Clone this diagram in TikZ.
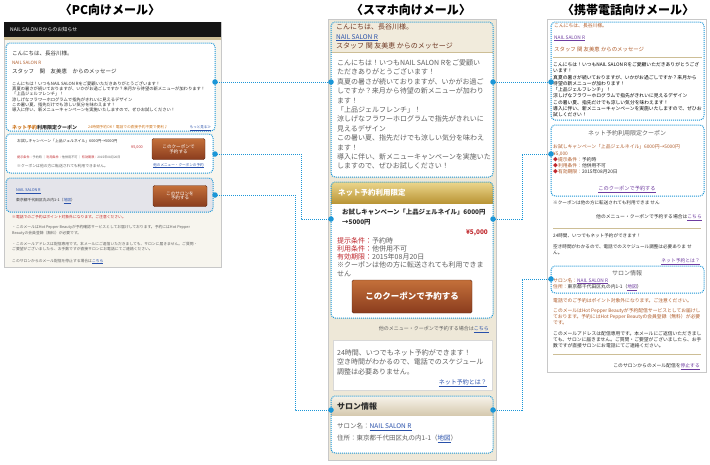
\documentclass[tikz,border=0pt]{standalone}
\usepackage{fontspec}
\setmainfont{Noto Sans CJK JP}
\definecolor{dotblue}{RGB}{27,150,215}
\definecolor{pcbg}{RGB}{247,245,238}
\definecolor{frameg}{RGB}{200,200,200}
\definecolor{tanl}{RGB}{205,190,150}
\definecolor{boxgray}{RGB}{228,228,234}
\definecolor{btntop}{RGB}{196,112,58}
\definecolor{btnbot}{RGB}{138,60,30}
\definecolor{spbg}{RGB}{238,232,216}
\definecolor{sphead}{RGB}{241,235,220}
\definecolor{goldtop}{RGB}{236,214,140}
\definecolor{goldbot}{RGB}{186,150,55}
\definecolor{saltop}{RGB}{247,243,234}
\definecolor{salbot}{RGB}{214,202,176}
\definecolor{redt}{RGB}{192,40,45}
\definecolor{linkb}{RGB}{40,80,170}
\definecolor{purp}{RGB}{110,60,160}
\definecolor{brownt}{RGB}{175,90,40}
\definecolor{spbrown}{RGB}{110,55,35}
\definecolor{darkt}{RGB}{45,45,45}
\definecolor{grayt}{RGB}{95,95,95}
\definecolor{orng}{RGB}{205,115,25}
\newcommand\fs[1]{\fontsize{#1}{#1}\selectfont}
\tikzset{
  dbox/.style={draw=dotblue, densely dotted, line width=1pt, rounded corners=4pt},
  conn/.style={draw=dotblue, densely dotted, line width=1pt},
  dotc/.style={circle, fill=dotblue, inner sep=0pt, minimum size=5.5pt},
  txt/.style={anchor=base west, inner sep=0pt},
  ctxt/.style={anchor=base, inner sep=0pt},
  rtxt/.style={anchor=base east, inner sep=0pt},
  btn/.style={draw=btnbot!70!black, rounded corners=1.5pt, top color=btntop, bottom color=btnbot, text=white, align=center, inner sep=0pt},
}
\begin{document}
\begin{tikzpicture}[x=1pt,y=-1pt]
\useasboundingbox[fill=white] (0,0) rectangle (710,464);

% ---------------- titles
\node[font=\bfseries\fs{12}] (ttlpc) at (110,10) {〈PC向けメール〉};
\node[font=\bfseries\fs{12}] (ttlsp) at (411,10) {〈スマホ向けメール〉};
\node[font=\bfseries\fs{12}] (ttlmb) at (628,10) {〈携帯電話向けメール〉};

% ================= PC mail
\draw[frameg, fill=pcbg] (4,22) rectangle (221,267);
\fill[black!92] (4,22) rectangle (221,37);
\node[txt, text=white, font=\fs{5}] (pchead) at (10,31.5) {NAIL SALON Rからのお知らせ};
\fill[tanl] (4,37) rectangle (221,39.5);

\draw[dbox, fill=white] (6,43) rectangle (215,131);
\node[txt, font=\fs{5.5}, text=darkt] (pcg1) at (12,55) {こんにちは、長谷川様。};
\node[txt, font=\fs{4.5}, text=brownt] (pcg2) at (12,64.5) {NAIL SALON R};
\node[txt, font=\fs{5.5}, text=darkt] (pcg3) at (12,73.5) {スタッフ　関　友美恵　からのメッセージ};
\foreach \s [count=\i] in {{こんにちは！いつもNAIL SALON Rをご愛顧いただきありがとうございます！},
  {真夏の暑さが続いておりますが、いかがお過ごしですか？来月から待望の新メニューが加わります！},
  {「上品ジェルフレンチ」！},
  {涼しげなフラワーホログラムで指先がきれいに見えるデザイン},
  {この暑い夏、指先だけでも涼しい気分を味わえます！},
  {導入に伴い、新メニューキャンペーンを実施いたしますので、ぜひお試しください！}}
  \node[txt, font=\fs{4.3}, text=darkt] (pcb\i) at (12,{85.5+(\i-1)*5.2}) {\s};
\node[txt, font=\bfseries\fs{5}, text=darkt] (pccph) at (12,129) {\textcolor{orng}{ネット予約}利用限定クーポン};
\node[txt, font=\fs{3.7}, text=orng] (pccpn) at (88,128.5) {24時間予約OK！電話での直接予約不要で便利♪};
\node[rtxt, font=\fs{3.5}, text=linkb] (pcmore) at (211,128.5) {\underline{もっと見る≫}};

\draw[dbox, fill=white] (6,134) rectangle (213,173);
\node[txt, font=\fs{3.8}, text=darkt] (pcc1) at (17,142) {お試しキャンペーン「上品ジェルネイル」6000円→5000円};
\node[rtxt, font=\fs{3.8}, text=redt] (pcc2) at (143,148) {¥5,000};
\node[txt, font=\fs{3.1}, text=grayt] (pcc3) at (17,158.5) {\textcolor{redt}{提示条件：}予約時 ｜ \textcolor{redt}{利用条件：}他併用不可 ｜ \textcolor{redt}{有効期限：}2015年08月20日};
\node[txt, font=\fs{3.8}, text=grayt] (pcc4) at (17,167.5) {※クーポンは他の方に転送されても利用できません。};
\node[btn, minimum width=53pt, minimum height=21pt, font=\fs{4.6}] (pcbtn1) at (178.5,149) {このクーポンで\\予約する};
\node[ctxt, font=\fs{3.6}, text=linkb] (pcc5) at (178.5,166) {\underline{他のメニュー・クーポンの予約}};

\draw[dbox, fill=boxgray] (6,178) rectangle (213,212);
\node[txt, font=\fs{3.8}, text=linkb] (pcs1) at (16,191.5) {\underline{NAIL SALON R}};
\node[txt, font=\fs{3.8}, text=darkt] (pcs2) at (16,201.5) {東京都千代田区丸の内1-1（\textcolor{linkb}{\underline{地図}}）};
\node[btn, minimum width=54pt, minimum height=21pt, font=\fs{4.6}] (pcbtn2) at (180,196) {このサロンを\\予約する};

\node[txt, font=\fs{3.8}, text=redt] (pcf0) at (12,218.5) {※電話でのご予約はポイント対象外になります。ご注意ください。};
\node[txt, font=\fs{3.8}, text=grayt] (pcf1) at (12,228.5) {・このメールはHot Pepper Beautyが予約確認サービスとしてお届けしております。予約にはHot Pepper};
\node[txt, font=\fs{3.8}, text=grayt] (pcf2) at (12,234) {Beautyの会員登録（無料）が必要です。};
\node[txt, font=\fs{3.8}, text=grayt] (pcf3) at (12,245) {・このメールアドレスは配信専用です。本メールにご返信いただきましても、サロンに届きません。ご質問・};
\node[txt, font=\fs{3.8}, text=grayt] (pcf4) at (12,250.5) {ご要望がございましたら、お手数ですが直接サロンにお電話にてご連絡ください。};
\node[txt, font=\fs{3.8}, text=grayt] (pcf5) at (12,262) {このサロンからのメール配信を停止する場合は\textcolor{linkb}{\underline{こちら}}};

% ================= smartphone mail
\draw[frameg, fill=spbg] (328,19) rectangle (496,460);
\begin{scope}
  \clip[rounded corners=4pt] (331,22) rectangle (493,177);
  \fill[white] (331,22) rectangle (493,177);
  \fill[sphead] (331,22) rectangle (493,52);
  \draw[tanl] (331,52) -- (493,52);
\end{scope}
\draw[dbox] (331,22) rectangle (493,177);
\node[txt, font=\fs{7}, text=spbrown] (sph1) at (336,29) {こんにちは、長谷川様。};
\node[txt, font=\fs{6.5}, text=linkb] (sph2) at (336,39) {\underline{NAIL SALON R}};
\node[txt, font=\fs{7}, text=spbrown] (sph3) at (336,48.5) {スタッフ 関 友美恵 からのメッセージ};
\foreach \s [count=\i] in {{こんにちは！いつもNAIL SALON Rをご愛顧い},
  {ただきありがとうございます！},
  {真夏の暑さが続いておりますが、いかがお過ご},
  {しですか？来月から待望の新メニューが加わり},
  {ます！},
  {「上品ジェルフレンチ」！},
  {涼しげなフラワーホログラムで指先がきれいに},
  {見えるデザイン},
  {この暑い夏、指先だけでも涼しい気分を味わえ},
  {ます！},
  {導入に伴い、新メニューキャンペーンを実施いた},
  {しますので、ぜひお試しください！}}
  \node[txt, font=\fs{7}, text=grayt] (spb\i) at (337,{65.5+(\i-1)*9.4}) {\s};

\begin{scope}
  \clip[rounded corners=4pt] (331,182) rectangle (493,318);
  \fill[white] (331,182) rectangle (493,318);
  \shade[top color=goldtop, bottom color=goldbot] (331,182) rectangle (493,203);
\end{scope}
\draw[dbox] (331,182) rectangle (493,318);
\node[txt, font=\bfseries\fs{7.5}, text=white] (spch) at (338,195.5) {ネット予約利用限定};
\node[txt, font=\bfseries\fs{6.4}, text=darkt] (spc1) at (342,214.5) {お試しキャンペーン「上品ジェルネイル」6000円};
\node[txt, font=\bfseries\fs{6.4}, text=darkt] (spc2) at (342,224) {→5000円};
\node[rtxt, font=\bfseries\fs{6.4}, text=redt] (spc3) at (488,234) {¥5,000};
\foreach \s [count=\i] in {{\textcolor{redt}{提示条件：}予約時},
  {\textcolor{redt}{利用条件：}他併用不可},
  {\textcolor{redt}{有効期限：}2015年08月20日},
  {※クーポンは他の方に転送されても利用できま},
  {せん}}
  \node[txt, font=\fs{7}, text=grayt] (spk\i) at (337,{243+(\i-1)*8.3}) {\s};
\node[btn, minimum width=120pt, minimum height=33pt, font=\bfseries\fs{8.5}] (spbtn) at (412,296.5) {このクーポンで予約する};
\node[rtxt, font=\fs{5}, text=grayt] (spother) at (489,330) {他のメニュー・クーポンで予約する場合は\textcolor{linkb}{\underline{こちら}}};

\draw[frameg!70, fill=white] (333,340) rectangle (492,390);
\node[txt, font=\fs{7}, text=grayt] (spn1) at (337,355) {24時間、いつでもネット予約ができます！};
\node[txt, font=\fs{7}, text=grayt] (spn2) at (337,364.5) {空き時間がわかるので、電話でのスケジュール};
\node[txt, font=\fs{7}, text=grayt] (spn3) at (337,374) {調整は必要ありません。};
\node[rtxt, font=\fs{6}, text=linkb] (spn4) at (487,384.5) {\underline{ネット予約とは？}};

\begin{scope}
  \clip[rounded corners=4pt] (331,396) rectangle (493,453);
  \fill[white] (331,396) rectangle (493,453);
  \shade[top color=saltop, bottom color=salbot] (331,396) rectangle (493,415);
\end{scope}
\draw[dbox] (331,396) rectangle (493,453);
\node[txt, font=\bfseries\fs{8}, text=darkt] (sps0) at (337,409) {サロン情報};
\node[txt, font=\fs{6.5}, text=grayt] (sps1) at (337,428.5) {サロン名：\textcolor{linkb}{\underline{NAIL SALON R}}};
\node[txt, font=\fs{6.5}, text=grayt] (sps2) at (337,440) {住所：東京都千代田区丸の内1-1（\textcolor{linkb}{\underline{地図}}）};

% ================= mobile mail
\draw[frameg, fill=white] (547,19) rectangle (706,372);
\draw[dbox] (551,22) rectangle (704,120);
\node[txt, font=\fs{4.8}, text=brownt] (mbh1) at (554,27) {こんにちは、長谷川様。};
\node[txt, font=\fs{4.8}, text=purp] (mbh2) at (554,39) {\underline{NAIL SALON R}};
\node[txt, font=\fs{5.4}, text=brownt] (mbh3) at (554,51) {スタッフ 関 友美恵 からのメッセージ};
\draw[tanl, line width=1pt] (553,57) -- (702,57);
\foreach \s [count=\i] in {{こんにちは！いつもNAIL SALON Rをご愛顧いただきありがとうござ},
  {います！},
  {真夏の暑さが続いておりますが、いかがお過ごしですか？来月から},
  {待望の新メニューが加わります！},
  {「上品ジェルフレンチ」！},
  {涼しげなフラワーホログラムで指先がきれいに見えるデザイン},
  {この暑い夏、指先だけでも涼しい気分を味わえます！},
  {導入に伴い、新メニューキャンペーンを実施いたしますので、ぜひお},
  {試しください！}}
  \node[txt, font=\fs{4.8}, text=black] (mbb\i) at (553,{66.7+(\i-1)*6.25}) {\s};

\draw[dbox] (551,125) rectangle (704,196);
\node[ctxt, font=\fs{6}, text=grayt] (mbc0) at (627,135) {ネット予約利用限定クーポン};
\node[txt, font=\fs{4.8}, text=brownt] (mbc1) at (553,148.8) {お試しキャンペーン「上品ジェルネイル」6000円→5000円};
\node[txt, font=\fs{4.8}, text=brownt] (mbc2) at (553,155) {¥5,000};
\node[txt, font=\fs{4.8}, text=darkt] (mbc3) at (553,161.3) {\textcolor{redt}{◆}\textcolor{brownt}{提示条件：}予約時};
\node[txt, font=\fs{4.8}, text=darkt] (mbc4) at (553,167.6) {\textcolor{redt}{◆}\textcolor{brownt}{利用条件：}他併用不可};
\node[txt, font=\fs{4.8}, text=darkt] (mbc5) at (553,173.9) {\textcolor{redt}{◆}\textcolor{brownt}{有効期限：}2015年08月20日};
\node[ctxt, font=\fs{5.2}, text=purp] (mbc6) at (627,190) {\underline{このクーポンで予約する}};

\node[txt, font=\fs{4.6}, text=darkt] (mbo1) at (553,204.5) {※クーポンは他の方に転送されても利用できま せん};
\node[rtxt, font=\fs{4.8}, text=darkt] (mbo2) at (702,218.5) {他のメニュー・クーポンで予約する場合は\textcolor{purp}{\underline{こちら}}};
\draw[tanl, line width=0.8pt] (553,228) -- (701,228);
\node[txt, font=\fs{4.6}, text=darkt] (mbn1) at (553,237) {24時間、いつでもネット予約ができます！};
\node[txt, font=\fs{4.6}, text=darkt] (mbn2) at (553,248) {空き時間がわかるので、電話でのスケジュール調整は必要ありま せ};
\node[txt, font=\fs{4.6}, text=darkt] (mbn3) at (553,254.5) {ん。};
\node[rtxt, font=\fs{4.8}, text=purp] (mbn4) at (700,262) {\underline{ネット予約とは？}};

\draw[dbox] (551,266) rectangle (704,293);
\node[ctxt, font=\fs{6}, text=grayt] (mbs0) at (627,275) {サロン情報};
\node[txt, font=\fs{4.8}, text=darkt] (mbs1) at (553,282) {\textcolor{brownt}{サロン名：}\textcolor{purp}{\underline{NAIL SALON R}}};
\node[txt, font=\fs{4.8}, text=darkt] (mbs2) at (553,288.5) {\textcolor{brownt}{住所：}東京都千代田区丸の内1-1（\textcolor{purp}{\underline{地図}}）};

\node[txt, font=\fs{4.8}, text=brownt] (mbf0) at (553,302) {電話でのご予約はポイント対象外になります。ご注意ください。};
\node[txt, font=\fs{4.8}, text=brownt] (mbf1) at (553,312) {このメールはHot Pepper Beautyが予約配信サービスとしてお届けし};
\node[txt, font=\fs{4.8}, text=brownt] (mbf2) at (553,318.3) {ております。予約にはHot Pepper Beautyの会員登録（無料）が必要};
\node[txt, font=\fs{4.8}, text=brownt] (mbf3) at (553,324.6) {です。};
\node[txt, font=\fs{4.8}, text=darkt] (mbf4) at (553,335) {このメールアドレスは配信専用です。本メールにご返信いただきまし};
\node[txt, font=\fs{4.8}, text=darkt] (mbf5) at (553,341.3) {ても、サロンに届きません。ご質問・ご要望がございましたら、お手};
\node[txt, font=\fs{4.8}, text=darkt] (mbf6) at (553,347.6) {数ですが直接サロンにお電話にてご連絡ください。};
\draw[tanl, line width=0.8pt] (553,354) -- (701,354);
\node[rtxt, font=\fs{4.8}, text=darkt] (mbf7) at (700,367.5) {このサロンからのメール配信を\textcolor{purp}{\underline{停止する}}};

% ================= connectors
\coordinate (a1) at (215,82);  \coordinate (b1) at (331,82);
\coordinate (a2) at (215,154); \coordinate (b2) at (331,219);
\coordinate (a3) at (215,195); \coordinate (b3) at (331,410);
\coordinate (c1) at (493,82);  \coordinate (d1) at (551,82);
\coordinate (c2) at (493,219); \coordinate (d2) at (551,154);
\coordinate (c3) at (493,410); \coordinate (d3) at (551,279);
\draw[conn] (a1) -- (b1);
\draw[conn] (a2) -- ++(86,0) |- (b2);
\draw[conn] (a3) -- ++(80,0) |- (b3);
\draw[conn] (c1) -- (d1);
\draw[conn] (c2) -- ++(29,0) |- (d2);
\draw[conn] (c3) -- ++(29,0) |- (d3);
\foreach \p in {a1,a2,a3,b1,b2,b3,c1,c2,c3,d1,d2,d3}
  \node[dotc] (dot\p) at (\p) {};
\end{tikzpicture}
\end{document}
